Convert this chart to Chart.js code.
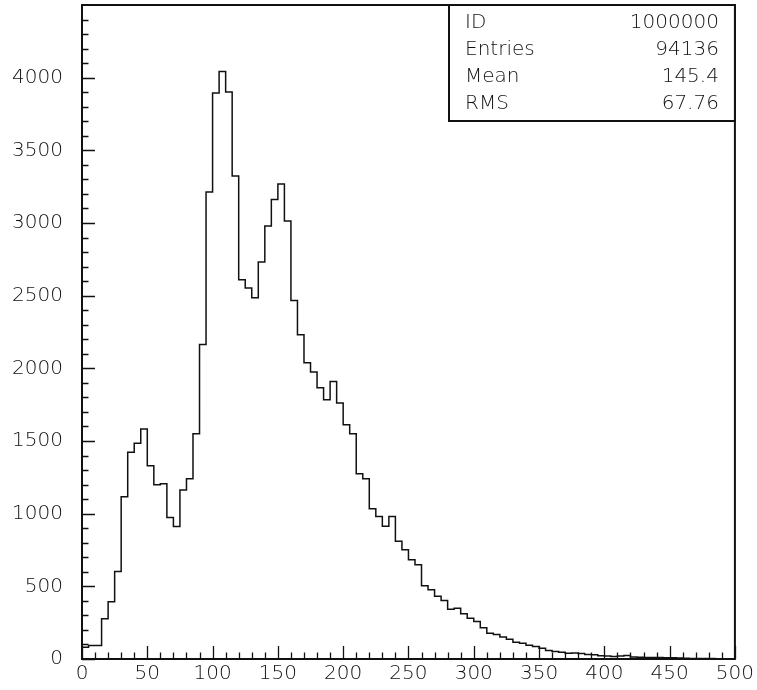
<!DOCTYPE html>
<html>
<head>
<meta charset="utf-8">
<script src="https://cdn.jsdelivr.net/npm/chart.js@4"></script>
<style>
  html, body { margin: 0; padding: 0; background: #fff; }
  #wrap { width: 757px; height: 690px; }
</style>
</head>
<body>
<div id="wrap"><canvas id="hist"></canvas></div>
<script>
// histogram 1000000: 100 bins of width 5 on [0, 500]
const binWidth = 5;
const xMin = 0;
const xMax = 500;
const yMax = 4500;

const counts = [
  80, 93, 93, 277, 394, 602, 1116, 1423, 1485, 1582,
  1330, 1199, 1205, 974, 912, 1162, 1240, 1550, 2164, 3213,
  3894, 4043, 3901, 3323, 2610, 2552, 2486, 2731, 2979, 3162,
  3268, 3013, 2467, 2231, 2038, 1974, 1866, 1784, 1910, 1761,
  1612, 1550, 1275, 1240, 1034, 981, 914, 981, 811, 751,
  683, 648, 504, 476, 432, 403, 343, 350, 311, 281,
  258, 215, 178, 168, 152, 136, 116, 109, 95, 86,
  74, 58, 52, 47, 40, 42, 38, 31, 30, 22,
  20, 18, 20, 24, 14, 12, 11, 10, 10, 8,
  8, 7, 6, 4, 4, 3, 3, 2, 2, 2
];

const xTickValues = [0, 50, 100, 150, 200, 250, 300, 350, 400, 450, 500];
const yTickValues = [0, 500, 1000, 1500, 2000, 2500, 3000, 3500, 4000];

const statNames = ['ID', 'Entries', 'Mean', 'RMS'];
const statValues = ['1000000', '94136', '145.4', '67.76'];

const FAMILY = '"DejaVu Sans", sans-serif';
const INK = '#111';

// step outline: each bin's count held from its lower edge to the next one
const outline = [{ x: xMin, y: 0 }];
counts.forEach((c, i) => outline.push({ x: xMin + i * binWidth, y: c }));
outline.push({ x: xMax, y: counts[counts.length - 1] });

// frame, inward tick marks and the statistics box
const pawDecor = {
  id: 'pawDecor',
  afterDraw(chart) {
    const { ctx, chartArea: a, scales } = chart;
    const xs = scales.x, ys = scales.y;
    ctx.save();
    ctx.strokeStyle = INK;
    ctx.lineWidth = 1.3;
    ctx.beginPath();
    for (let v = xMin; v <= xMax; v += 10) {
      const px = Math.round(xs.getPixelForValue(v)) + 0.5;
      const len = v % 50 === 0 ? 13 : 6.5;
      ctx.moveTo(px, a.bottom);
      ctx.lineTo(px, a.bottom - len);
    }
    for (let v = 0; v < yMax; v += 100) {
      const py = Math.round(ys.getPixelForValue(v)) + 0.5;
      const len = v % 500 === 0 ? 13 : 6.5;
      ctx.moveTo(a.left, py);
      ctx.lineTo(a.left + len, py);
    }
    ctx.stroke();

    ctx.lineWidth = 2;
    ctx.strokeRect(a.left, a.top, a.right - a.left, a.bottom - a.top);

    // stats box in the top right corner
    const bx = 449, by = a.top, bw = a.right - bx, bh = 116;
    ctx.fillStyle = '#fff';
    ctx.fillRect(bx, by, bw, bh);
    ctx.strokeRect(bx, by, bw, bh);
    ctx.fillStyle = INK;
    ctx.font = `200 20px ${FAMILY}`;
    ctx.textBaseline = 'alphabetic';
    statNames.forEach((name, i) => {
      const base = by + 22.5 + i * 27;
      ctx.textAlign = 'left';
      ctx.fillText(name, bx + 16, base);
      ctx.textAlign = 'right';
      ctx.fillText(statValues[i], a.right - 16, base);
    });
    ctx.restore();
  }
};

new Chart(document.getElementById('hist'), {
  type: 'line',
  data: {
    datasets: [{
      data: outline,
      stepped: 'before',
      borderColor: INK,
      borderWidth: 1.5,
      pointRadius: 0,
      fill: false
    }]
  },
  options: {
    responsive: true,
    maintainAspectRatio: false,
    animation: false,
    events: [],
    layout: { padding: { top: 5, right: 22, left: 0, bottom: 0 } },
    plugins: { legend: { display: false }, tooltip: { enabled: false } },
    scales: {
      x: {
        type: 'linear',
        min: xMin,
        max: xMax,
        afterBuildTicks: s => { s.ticks = xTickValues.map(v => ({ value: v })); },
        afterFit: s => { s.height = 31; },
        grid: { display: false, drawTicks: false },
        border: { display: false },
        ticks: { font: { family: FAMILY, size: 20, weight: '200' }, color: INK, padding: 3, maxRotation: 0, autoSkip: false, callback: v => String(v) }
      },
      y: {
        min: 0,
        max: yMax,
        afterBuildTicks: s => { s.ticks = yTickValues.map(v => ({ value: v })); },
        afterFit: s => { s.width = 82; s.paddingTop = 0; s.paddingBottom = 0; },
        grid: { display: false, drawTicks: false },
        border: { display: false },
        ticks: { font: { family: FAMILY, size: 20, weight: '200' }, color: INK, padding: 19, callback: v => String(v) }
      }
    }
  },
  plugins: [pawDecor]
});
</script>
</body>
</html>
